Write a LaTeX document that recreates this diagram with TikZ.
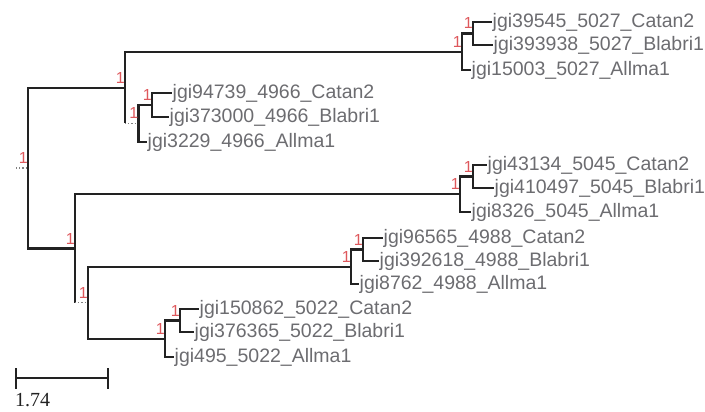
\documentclass[tikz,border=0pt]{standalone}
\usepackage{fontspec}
\setmainfont{Liberation Sans}
\newfontfamily\barfont{Liberation Serif}
\definecolor{tipgray}{RGB}{108,108,112}
\definecolor{bootred}{RGB}{222,88,92}
\definecolor{branchc}{RGB}{34,34,34}

\begin{document}
\begin{tikzpicture}[x=1pt,y=-1pt,
    branch/.style={line width=2.1pt,draw=branchc},
    stub/.style={line width=1.2pt,dotted,draw=gray},
    leaf/.style={anchor=west,inner sep=0.5pt,text=tipgray,font=\fontsize{19.5}{20}\selectfont},
    boot/.style={anchor=base east,inner sep=0pt,text=bootred,font=\fontsize{16}{16}\selectfont}]
    \useasboundingbox (0,0) rectangle (705,412);
    % internal nodes
    \coordinate (root) at (28,168);
    \coordinate (nA) at (125,87.6);
    \coordinate (nB) at (75,248.5);
    \coordinate (nD) at (88,302.75);
    \coordinate (c5027) at (462,51.75);
    \coordinate (c5027i) at (473,33.5);
    \coordinate (c4966) at (138.5,123.5);
    \coordinate (c4966i) at (152,105);
    \coordinate (c5045) at (460,194.25);
    \coordinate (c5045i) at (473,176.5);
    \coordinate (c4988) at (351,266.75);
    \coordinate (c4988i) at (363,249.5);
    \coordinate (c5022) at (165,338.75);
    \coordinate (c5022i) at (180,320.5);
    % leaves
    \node[leaf] (l5027c) at (492,22) {jgi39545\_5027\_Catan2};
    \node[leaf] (l5027b) at (493,45) {jgi393938\_5027\_Blabri1};
    \node[leaf] (l5027a) at (471,70) {jgi15003\_5027\_Allma1};
    \node[leaf] (l4966c) at (172,93) {jgi94739\_4966\_Catan2};
    \node[leaf] (l4966b) at (169,117) {jgi373000\_4966\_Blabri1};
    \node[leaf] (l4966a) at (147,142) {jgi3229\_4966\_Allma1};
    \node[leaf] (l5045c) at (487,165) {jgi43134\_5045\_Catan2};
    \node[leaf] (l5045b) at (494,188) {jgi410497\_5045\_Blabri1};
    \node[leaf] (l5045a) at (471,212) {jgi8326\_5045\_Allma1};
    \node[leaf] (l4988c) at (383,238) {jgi96565\_4988\_Catan2};
    \node[leaf] (l4988b) at (379,261) {jgi392618\_4988\_Blabri1};
    \node[leaf] (l4988a) at (359,284) {jgi8762\_4988\_Allma1};
    \node[leaf] (l5022c) at (199,309) {jgi150862\_5022\_Catan2};
    \node[leaf] (l5022b) at (194,332) {jgi376365\_5022\_Blabri1};
    \node[leaf] (l5022a) at (174,357) {jgi495\_5022\_Allma1};
    % backbone
    \coordinate (stem) at (16,168);
    \draw[stub] (stem) -- (root);
    \draw[branch] (root) |- (nA);
    \draw[branch] (root) |- (nB);
    \draw[branch] (nA) |- (c5027);
    \draw[branch] (nA) -- (nA |- c4966);
    \draw[stub] (nA |- c4966) -- (c4966);
    \draw[branch] (nB) |- (c5045);
    \draw[branch] (nB) -- (nB |- nD);
    \draw[stub] (nB |- nD) -- (nD);
    \draw[branch] (nD) |- (c4988);
    \draw[branch] (nD) |- (c5022);
    % clades
    \foreach \c in {5027,4966,5045,4988,5022} {
      \draw[branch] (c\c) |- (c\c i);
      \draw[branch] (c\c) |- (l\c a.west);
      \draw[branch] (c\c i) |- (l\c c.west);
      \draw[branch] (c\c i) |- (l\c b.west);
    }
    % support values
    \foreach \n in {root,nA,nB,nD,c5027,c5027i,c4966,c4966i,c5045,c5045i,c4988,c4988i,c5022,c5022i}
      \node[boot] (s\n) at ([shift={(0,-4.5)}]\n) {1};
    % scale bar
    \coordinate (sb0) at (16,378);
    \coordinate (sb1) at (108,378);
    \draw[branch] (sb0) -- (sb1);
    \draw[branch] ([shift={(0,-10)}]sb0) -- ([shift={(0,11)}]sb0);
    \draw[branch] ([shift={(0,-10)}]sb1) -- ([shift={(0,11)}]sb1);
    \node[anchor=north west,inner sep=0pt,text=branchc,font=\barfont\fontsize{20}{20}\selectfont] (sblab) at (15,393) {1.74};
  \end{tikzpicture}
\end{document}
